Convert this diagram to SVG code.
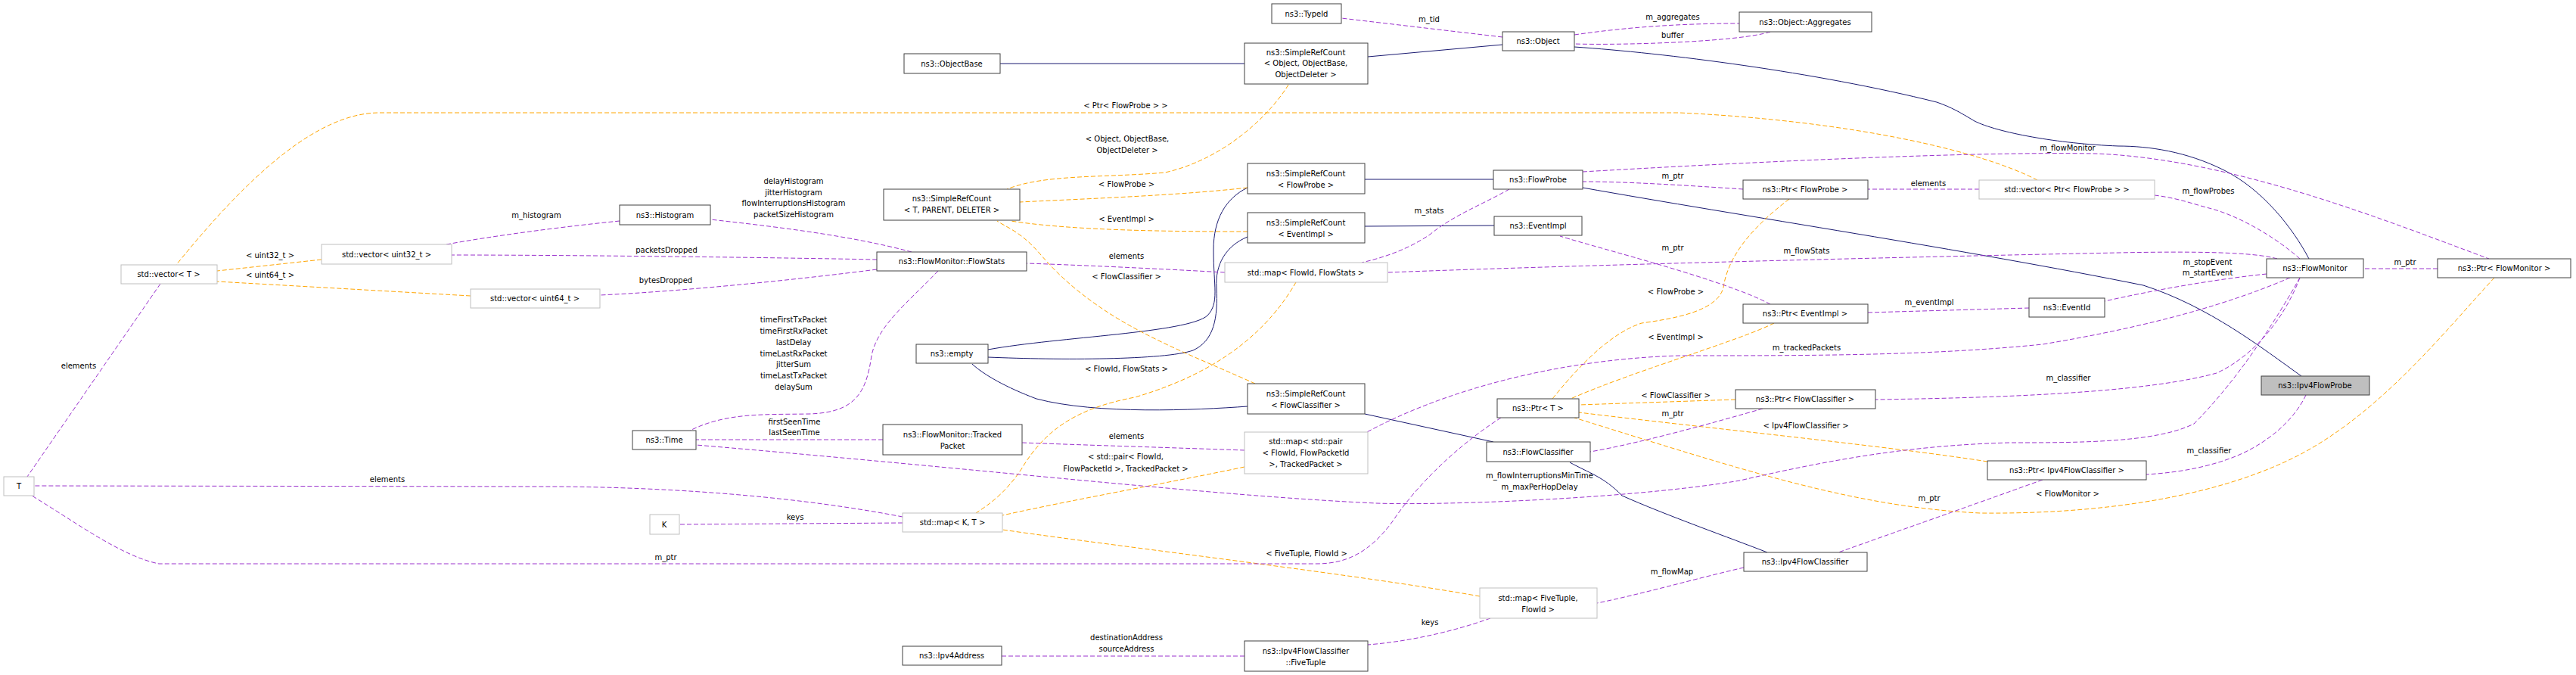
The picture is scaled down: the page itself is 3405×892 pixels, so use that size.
<svg xmlns="http://www.w3.org/2000/svg" width="3405" height="892" viewBox="0 0 3405 892">
<style>
text{font-family:"DejaVu Sans","Liberation Sans",sans-serif;font-size:10px;fill:#000}
.nt{text-anchor:middle}
.lb{text-anchor:middle}
rect{fill:#fff;stroke:#404040;stroke-width:1}
rect.g{stroke:#bfbfbf}
rect.f{fill:#bfbfbf}
path{fill:none}
.inh{stroke:#191970;stroke-width:1}
.use{stroke:#9a32cd;stroke-width:1;stroke-dasharray:6,3}
.tpl{stroke:#ffa500;stroke-width:1;stroke-dasharray:6,3}
</style>
<defs>
<marker id="ai" viewBox="0 0 10 8" refX="10" refY="4" markerWidth="12" markerHeight="9" markerUnits="userSpaceOnUse" orient="auto"><path d="M0,0L10,4L0,8z" fill="#191970" stroke="none"/></marker>
<marker id="au" viewBox="0 0 10 8" refX="10" refY="4" markerWidth="12" markerHeight="9" markerUnits="userSpaceOnUse" orient="auto"><path d="M0,0L10,4L0,8z" fill="#9a32cd" stroke="none"/></marker>
<marker id="at" viewBox="0 0 10 8" refX="10" refY="4" markerWidth="12" markerHeight="9" markerUnits="userSpaceOnUse" orient="auto"><path d="M0,0L10,4L0,8z" fill="#ffa500" stroke="none"/></marker>
</defs>

<g id="connectors">
<g marker-end="url(#ai)" class="inh">
<path d="M1645,84L1322,84"/>
<path d="M1986,59L1808,75"/>
<path d="M3052,342C3030,300 2990,250 2940,225C2890,200 2840,193 2800,193C2720,190 2640,175 2610,160C2590,148 2580,142 2560,135C2400,95 2200,70 2081,62"/>
<path d="M1974,237L1804,237"/>
<path d="M1975,298L1804,299"/>
<path d="M1649,248C1620,262 1604,290 1604,330C1604,380 1612,400 1596,417C1570,440 1400,445 1306,462"/>
<path d="M1649,313C1620,325 1606,350 1608,380C1610,420 1605,450 1577,463C1540,476 1400,476 1306,472"/>
<path d="M1649,537C1580,542 1450,548 1370,527C1330,512 1300,495 1285,481"/>
<path d="M1974,584L1804,547"/>
<path d="M2336,730C2290,712 2200,680 2144,655C2120,630 2100,625 2075,611"/>
<path d="M3042,497C2990,460 2920,405 2833,377C2600,330 2300,285 2092,248"/>
</g>
<g marker-end="url(#at)" class="tpl">
<path d="M1703,112C1680,150 1620,210 1540,228C1460,235 1380,230 1331,250"/>
<path d="M1649,248C1560,258 1450,262 1348,267"/>
<path d="M1649,306C1550,306 1420,305 1336,292"/>
<path d="M1659,507C1600,480 1520,450 1460,410C1400,370 1380,340 1365,325C1345,305 1330,300 1318,292"/>
<path d="M2693,238C2620,200 2450,160 2220,149L500,149C420,150 330,230 233,350"/>
<path d="M425,343L287,358"/>
<path d="M622,391L287,372"/>
<path d="M1713,373C1680,430 1620,490 1500,525C1420,540 1380,570 1350,620C1330,650 1310,665 1290,678"/>
<path d="M1645,617C1560,635 1420,660 1325,681"/>
<path d="M1956,788C1800,760 1500,725 1325,700"/>
<path d="M2365,263C2330,290 2285,330 2278,380C2270,410 2220,420 2170,427C2130,440 2090,480 2052,527"/>
<path d="M2345,427C2300,450 2160,490 2076,527"/>
<path d="M2294,528L2087,535"/>
<path d="M2627,610C2500,590 2250,565 2087,545"/>
<path d="M3297,367C3230,440 3150,540 3047,597C2950,650 2800,680 2617,678C2450,670 2300,620 2081,552"/>
</g>
<g marker-end="url(#au)" class="use">
<path d="M1986,49L1773,24"/>
<path d="M2081,46C2150,36 2220,31 2299,31"/>
<path d="M2340,42C2300,55 2150,60 2081,58"/>
<path d="M1205,333C1120,310 1010,298 939,290"/>
<path d="M819,292C740,300 650,312 590,323"/>
<path d="M1159,343C1000,340 750,337 597,337"/>
<path d="M1159,356C1050,370 900,385 793,390"/>
<path d="M1240,358C1200,400 1160,430 1152,470C1145,520 1130,545 1070,547C1010,548 960,545 912,569"/>
<path d="M1167,581L920,581"/>
<path d="M3040,367C3010,420 2960,500 2900,560C2850,585 2750,585 2656,585C2550,588 2450,600 2300,635C2150,660 1900,668 1819,665C1600,655 1300,620 920,588"/>
<path d="M1619,360C1530,355 1420,350 1357,348"/>
<path d="M1995,250C1960,270 1920,285 1890,310C1860,330 1830,340 1800,347"/>
<path d="M3010,342C2980,333 2900,332 2800,334C2500,340 2100,350 1834,360"/>
<path d="M2304,250C2230,245 2150,240 2092,240"/>
<path d="M2616,250L2469,250"/>
<path d="M3040,342C3010,315 2960,285 2920,275C2900,270 2880,262 2848,258"/>
<path d="M2092,227C2300,215 2600,200 2770,203C2950,210 3150,290 3290,342"/>
<path d="M3222,355L3124,355"/>
<path d="M2340,402C2280,370 2120,330 2062,312"/>
<path d="M2682,407L2469,413"/>
<path d="M2996,362C2920,370 2840,385 2782,398"/>
<path d="M3027,367C2950,400 2850,430 2700,455C2550,470 2400,470 2220,470C2050,475 1900,520 1805,572"/>
<path d="M3040,367C3020,420 2980,470 2930,493C2850,515 2700,525 2479,528"/>
<path d="M3048,522C3030,560 2990,590 2950,605C2910,620 2870,625 2837,627"/>
<path d="M2700,634C2600,670 2500,705 2430,730"/>
<path d="M2330,540C2260,560 2170,585 2102,597"/>
<path d="M1984,552C1940,580 1880,630 1840,690C1810,730 1780,745 1740,745L210,745C160,735 100,690 42,655"/>
<path d="M212,375L36,630"/>
<path d="M1193,683C1100,665 950,645 740,643L45,642"/>
<path d="M1193,691L898,693"/>
<path d="M2305,750C2240,765 2170,785 2111,797"/>
<path d="M1970,817C1920,835 1860,848 1808,852"/>
<path d="M1645,867L1324,867"/>
<path d="M1645,595C1560,592 1430,588 1351,585"/>
</g>
<g class="lbls">
<text class="lb" x="1490" y="187">&lt; Object, ObjectBase,</text>
<text class="lb" x="1490" y="202">ObjectDeleter &gt;</text>
<text class="lb" x="1489" y="247">&lt; FlowProbe &gt;</text>
<text class="lb" x="1489" y="293">&lt; EventImpl &gt;</text>
<text class="lb" x="1489" y="369">&lt; FlowClassifier &gt;</text>
<text class="lb" x="1488" y="143">&lt; Ptr&lt; FlowProbe &gt; &gt;</text>
<text class="lb" x="357" y="341">&lt; uint32_t &gt;</text>
<text class="lb" x="357" y="367">&lt; uint64_t &gt;</text>
<text class="lb" x="1489" y="491">&lt; FlowId, FlowStats &gt;</text>
<text class="lb" x="1488" y="607">&lt; std::pair&lt; FlowId,</text>
<text class="lb" x="1488" y="623">FlowPacketId &gt;, TrackedPacket &gt;</text>
<text class="lb" x="1727" y="735">&lt; FiveTuple, FlowId &gt;</text>
<text class="lb" x="2215" y="389">&lt; FlowProbe &gt;</text>
<text class="lb" x="2215" y="449">&lt; EventImpl &gt;</text>
<text class="lb" x="2215" y="526">&lt; FlowClassifier &gt;</text>
<text class="lb" x="2387" y="566">&lt; Ipv4FlowClassifier &gt;</text>
<text class="lb" x="2733" y="656">&lt; FlowMonitor &gt;</text>
<text class="lb" x="1889" y="29">m_tid</text>
<text class="lb" x="2211" y="26">m_aggregates</text>
<text class="lb" x="2211" y="50">buffer</text>
<text class="lb" x="1049" y="243">delayHistogram</text>
<text class="lb" x="1049" y="258">jitterHistogram</text>
<text class="lb" x="1049" y="272">flowInterruptionsHistogram</text>
<text class="lb" x="1049" y="287">packetSizeHistogram</text>
<text class="lb" x="709" y="288">m_histogram</text>
<text class="lb" x="881" y="334">packetsDropped</text>
<text class="lb" x="880" y="374">bytesDropped</text>
<text class="lb" x="1049" y="426">timeFirstTxPacket</text>
<text class="lb" x="1049" y="441">timeFirstRxPacket</text>
<text class="lb" x="1049" y="456">lastDelay</text>
<text class="lb" x="1049" y="471">timeLastRxPacket</text>
<text class="lb" x="1049" y="485">jitterSum</text>
<text class="lb" x="1049" y="500">timeLastTxPacket</text>
<text class="lb" x="1049" y="515">delaySum</text>
<text class="lb" x="1050" y="561">firstSeenTime</text>
<text class="lb" x="1050" y="575">lastSeenTime</text>
<text class="lb" x="2035" y="632">m_flowInterruptionsMinTime</text>
<text class="lb" x="2035" y="647">m_maxPerHopDelay</text>
<text class="lb" x="1489" y="342">elements</text>
<text class="lb" x="1889" y="282">m_stats</text>
<text class="lb" x="2388" y="335">m_flowStats</text>
<text class="lb" x="2211" y="236">m_ptr</text>
<text class="lb" x="2549" y="246">elements</text>
<text class="lb" x="2919" y="256">m_flowProbes</text>
<text class="lb" x="2733" y="199">m_flowMonitor</text>
<text class="lb" x="3179" y="350">m_ptr</text>
<text class="lb" x="2211" y="331">m_ptr</text>
<text class="lb" x="2550" y="403">m_eventImpl</text>
<text class="lb" x="2918" y="350">m_stopEvent</text>
<text class="lb" x="2918" y="364">m_startEvent</text>
<text class="lb" x="2388" y="463">m_trackedPackets</text>
<text class="lb" x="2734" y="503">m_classifier</text>
<text class="lb" x="2920" y="599">m_classifier</text>
<text class="lb" x="2550" y="662">m_ptr</text>
<text class="lb" x="2211" y="550">m_ptr</text>
<text class="lb" x="880" y="740">m_ptr</text>
<text class="lb" x="104" y="487">elements</text>
<text class="lb" x="512" y="637">elements</text>
<text class="lb" x="1051" y="687">keys</text>
<text class="lb" x="2210" y="759">m_flowMap</text>
<text class="lb" x="1890" y="826">keys</text>
<text class="lb" x="1489" y="846">destinationAddress</text>
<text class="lb" x="1489" y="861">sourceAddress</text>
<text class="lb" x="1489" y="580">elements</text>
</g>
</g>

<g id="n_Ipv4FlowProbe"><rect class="f" x="2989" y="497" width="143" height="25"/><text class="nt" x="3060" y="513">ns3::Ipv4FlowProbe</text></g>
<g id="n_FlowProbe"><rect x="1974" y="225" width="118" height="25"/><text class="nt" x="2033" y="241">ns3::FlowProbe</text></g>
<g id="n_SRC_FlowProbe"><rect x="1649" y="216" width="155" height="40"/><text class="nt" x="1726" y="233">ns3::SimpleRefCount</text><text class="nt" x="1726" y="248">&lt; FlowProbe &gt;</text></g>
<g id="n_Object"><rect x="1986" y="42" width="95" height="25"/><text class="nt" x="2033" y="58">ns3::Object</text></g>
<g id="n_SRC_Object"><rect x="1645" y="57" width="163" height="54"/><text class="nt" x="1726" y="73">ns3::SimpleRefCount</text><text class="nt" x="1726" y="87">&lt; Object, ObjectBase,</text><text class="nt" x="1726" y="102">ObjectDeleter &gt;</text></g>
<g id="n_ObjectBase"><rect x="1195" y="71" width="127" height="26"/><text class="nt" x="1258" y="88">ns3::ObjectBase</text></g>
<g id="n_SRC_T"><rect x="1168" y="250" width="180" height="41"/><text class="nt" x="1258" y="266">ns3::SimpleRefCount</text><text class="nt" x="1258" y="281">&lt; T, PARENT, DELETER &gt;</text></g>
<g id="n_TypeId"><rect x="1681" y="5" width="92" height="26"/><text class="nt" x="1727" y="22">ns3::TypeId</text></g>
<g id="n_Aggregates"><rect x="2299" y="16" width="175" height="26"/><text class="nt" x="2386" y="33">ns3::Object::Aggregates</text></g>
<g id="n_empty"><rect x="1211" y="455" width="95" height="25"/><text class="nt" x="1258" y="471">ns3::empty</text></g>
<g id="n_SRC_EventImpl"><rect x="1649" y="281" width="155" height="40"/><text class="nt" x="1726" y="298">ns3::SimpleRefCount</text><text class="nt" x="1726" y="313">&lt; EventImpl &gt;</text></g>
<g id="n_EventImpl"><rect x="1975" y="286" width="116" height="25"/><text class="nt" x="2033" y="302">ns3::EventImpl</text></g>
<g id="n_SRC_FlowClassifier"><rect x="1649" y="507" width="155" height="40"/><text class="nt" x="1726" y="524">ns3::SimpleRefCount</text><text class="nt" x="1726" y="539">&lt; FlowClassifier &gt;</text></g>
<g id="n_FlowClassifier"><rect x="1965" y="584" width="137" height="26"/><text class="nt" x="2033" y="601">ns3::FlowClassifier</text></g>
<g id="n_Ipv4FlowClassifier"><rect x="2305" y="730" width="163" height="25"/><text class="nt" x="2386" y="746">ns3::Ipv4FlowClassifier</text></g>
<g id="n_FlowMonitor"><rect x="2996" y="342" width="128" height="25"/><text class="nt" x="3060" y="358">ns3::FlowMonitor</text></g>
<g id="n_PtrFlowMonitor"><rect x="3222" y="342" width="176" height="25"/><text class="nt" x="3310" y="358">ns3::Ptr&lt; FlowMonitor &gt;</text></g>
<g id="n_PtrT"><rect x="1979" y="527" width="108" height="25"/><text class="nt" x="2033" y="543">ns3::Ptr&lt; T &gt;</text></g>
<g id="n_PtrFlowProbe"><rect x="2304" y="238" width="165" height="25"/><text class="nt" x="2386" y="254">ns3::Ptr&lt; FlowProbe &gt;</text></g>
<g id="n_VecPtrFlowProbe"><rect class="g" x="2616" y="238" width="232" height="25"/><text class="nt" x="2732" y="254">std::vector&lt; Ptr&lt; FlowProbe &gt; &gt;</text></g>
<g id="n_PtrEventImpl"><rect x="2304" y="402" width="165" height="25"/><text class="nt" x="2386" y="418">ns3::Ptr&lt; EventImpl &gt;</text></g>
<g id="n_EventId"><rect x="2682" y="394" width="100" height="25"/><text class="nt" x="2732" y="410">ns3::EventId</text></g>
<g id="n_PtrFlowClassifier"><rect x="2294" y="515" width="185" height="25"/><text class="nt" x="2386" y="531">ns3::Ptr&lt; FlowClassifier &gt;</text></g>
<g id="n_PtrIpv4FlowClassifier"><rect x="2627" y="609" width="210" height="25"/><text class="nt" x="2732" y="625">ns3::Ptr&lt; Ipv4FlowClassifier &gt;</text></g>
<g id="n_MapFlowStats"><rect class="g" x="1619" y="347" width="215" height="26"/><text class="nt" x="1726" y="364">std::map&lt; FlowId, FlowStats &gt;</text></g>
<g id="n_FlowStats"><rect x="1159" y="333" width="198" height="25"/><text class="nt" x="1258" y="349">ns3::FlowMonitor::FlowStats</text></g>
<g id="n_Histogram"><rect x="819" y="271" width="120" height="26"/><text class="nt" x="879" y="288">ns3::Histogram</text></g>
<g id="n_VecU32"><rect class="g" x="425" y="323" width="172" height="26"/><text class="nt" x="511" y="340">std::vector&lt; uint32_t &gt;</text></g>
<g id="n_VecU64"><rect class="g" x="622" y="382" width="171" height="25"/><text class="nt" x="707" y="398">std::vector&lt; uint64_t &gt;</text></g>
<g id="n_VecT"><rect class="g" x="160" y="350" width="127" height="25"/><text class="nt" x="223" y="366">std::vector&lt; T &gt;</text></g>
<g id="n_T"><rect class="g" x="5" y="630" width="40" height="25"/><text class="nt" x="25" y="646">T</text></g>
<g id="n_Time"><rect x="836" y="569" width="84" height="25"/><text class="nt" x="878" y="585">ns3::Time</text></g>
<g id="n_TrackedPacket"><rect x="1167" y="561" width="184" height="40"/><text class="nt" x="1259" y="578">ns3::FlowMonitor::Tracked</text><text class="nt" x="1259" y="593">Packet</text></g>
<g id="n_MapPair"><rect class="g" x="1645" y="571" width="163" height="55"/><text class="nt" x="1726" y="587">std::map&lt; std::pair</text><text class="nt" x="1726" y="602">&lt; FlowId, FlowPacketId</text><text class="nt" x="1726" y="617">&gt;, TrackedPacket &gt;</text></g>
<g id="n_K"><rect class="g" x="859" y="680" width="39" height="26"/><text class="nt" x="878" y="697">K</text></g>
<g id="n_MapKT"><rect class="g" x="1193" y="678" width="132" height="25"/><text class="nt" x="1259" y="694">std::map&lt; K, T &gt;</text></g>
<g id="n_MapFiveTuple"><rect class="g" x="1956" y="777" width="155" height="40"/><text class="nt" x="2033" y="794">std::map&lt; FiveTuple,</text><text class="nt" x="2033" y="809">FlowId &gt;</text></g>
<g id="n_FiveTuple"><rect x="1645" y="847" width="163" height="40"/><text class="nt" x="1726" y="864">ns3::Ipv4FlowClassifier</text><text class="nt" x="1726" y="879">::FiveTuple</text></g>
<g id="n_Ipv4Address"><rect x="1193" y="854" width="131" height="25"/><text class="nt" x="1258" y="870">ns3::Ipv4Address</text></g>
</svg>
